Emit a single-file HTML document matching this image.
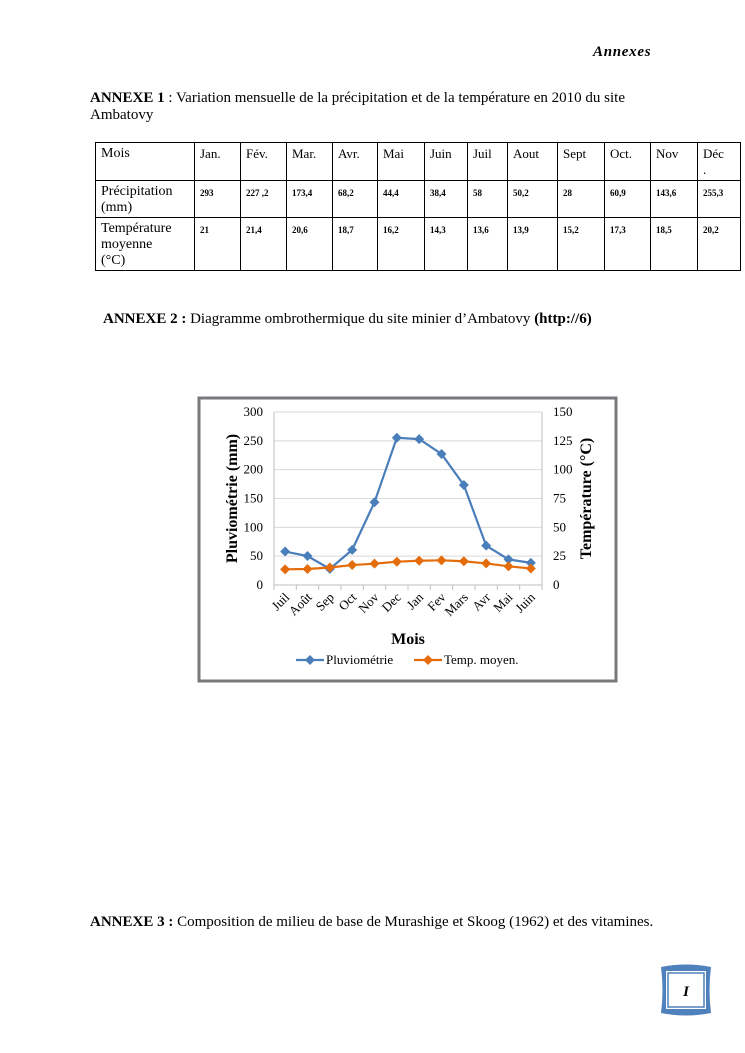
<!DOCTYPE html>
<html><head><meta charset="utf-8"><style>
body{margin:0;background:#fff;font-family:"Liberation Serif",serif;color:#000}
#page{position:relative;width:745px;height:1053px;overflow:hidden}
.t{position:absolute;white-space:nowrap;font-size:15px}
table{position:absolute;left:95px;top:142px;border-collapse:collapse;table-layout:fixed;width:645px}
td{border:1px solid #000;vertical-align:top;padding:3px 4px 0 5px;font-size:14px;line-height:16px;overflow:hidden}
td.v{font-size:9px;font-weight:bold;padding-top:6px;line-height:12px}
</style></head><body><div id="page">
<div class="t" style="left:593px;top:44px;font-style:italic;font-weight:bold;font-size:15px;letter-spacing:0.7px">Annexes</div>
<div class="t" style="left:90px;top:90px;line-height:17px"><b>ANNEXE 1</b> : Variation mensuelle de la précipitation et de la température en 2010 du site<br>Ambatovy</div>
<table>
<colgroup><col style="width:99px"><col style="width:46px"><col style="width:46px"><col style="width:46px"><col style="width:45px"><col style="width:47px"><col style="width:43px"><col style="width:40px"><col style="width:50px"><col style="width:47px"><col style="width:46px"><col style="width:47px"><col style="width:43px"></colgroup>
<tr style="height:38px"><td>Mois</td><td style="font-size:13px">Jan.</td><td style="font-size:13px">Fév.</td><td style="font-size:13px">Mar.</td><td style="font-size:13px">Avr.</td><td style="font-size:13px">Mai</td><td style="font-size:13px">Juin</td><td style="font-size:13px">Juil</td><td style="font-size:13px">Aout</td><td style="font-size:13px">Sept</td><td style="font-size:13px">Oct.</td><td style="font-size:13px">Nov</td><td style="font-size:13px">Déc<br>.</td></tr>
<tr style="height:37px"><td>Précipitation<br>(mm)</td><td class="v">293</td><td class="v">227 ,2</td><td class="v">173,4</td><td class="v">68,2</td><td class="v">44,4</td><td class="v">38,4</td><td class="v">58</td><td class="v">50,2</td><td class="v">28</td><td class="v">60,9</td><td class="v">143,6</td><td class="v">255,3</td></tr>
<tr style="height:53px"><td>Température<br>moyenne<br>(°C)</td><td class="v">21</td><td class="v">21,4</td><td class="v">20,6</td><td class="v">18,7</td><td class="v">16,2</td><td class="v">14,3</td><td class="v">13,6</td><td class="v">13,9</td><td class="v">15,2</td><td class="v">17,3</td><td class="v">18,5</td><td class="v">20,2</td></tr>
</table>
<div class="t" style="left:103px;top:311px"><b>ANNEXE 2 :</b> Diagramme ombrothermique du site minier d’Ambatovy <b>(http://6)</b></div>
<svg id="chart" style="position:absolute;left:0;top:0" width="745" height="1053"></svg>
<div class="t" style="left:90px;top:914px"><b>ANNEXE 3 :</b> Composition de milieu de base de Murashige et Skoog (1962) et des vitamines.</div>
<svg style="position:absolute;left:658px;top:962px" width="56" height="56">
<path d="M3,5 Q28,0 53,5 Q50,28 53,51 Q28,56 3,51 Q6,28 3,5Z" fill="#4f81bd"/>
<rect x="8" y="9" width="40" height="38" fill="#fff"/><rect x="10" y="11" width="36" height="34" fill="none" stroke="#4f81bd" stroke-width="1.5"/>
<text x="28" y="34" text-anchor="middle" font-family="Liberation Serif" font-style="italic" font-weight="bold" font-size="15">I</text></svg>
</div>
<script>
const months=["Juil","Août","Sep","Oct","Nov","Dec","Jan","Fev","Mars","Avr","Mai","Juin"];
const pluvio=[58,50.2,28,60.9,143.6,255.3,253,227.2,173.4,68.2,44.4,38.4];
const temp=[13.6,13.9,15.2,17.3,18.5,20.2,21,21.4,20.6,18.7,16.2,14.3];
const leftTicks=[0,50,100,150,200,250,300];
const rightTicks=[0,25,50,75,100,125,150];
const svg=document.getElementById('chart');const NS="http://www.w3.org/2000/svg";
const X0=274,X1=542,Y0=585,Y1=412;
const cw=(X1-X0)/months.length;
const x=i=>X0+cw*(i+0.5);
const yL=v=>Y0-(v/300)*(Y0-Y1);
const yR=v=>Y0-(v/150)*(Y0-Y1);
function el(t,a,txt){const e=document.createElementNS(NS,t);for(const k in a)e.setAttribute(k,a[k]);if(txt!=null)e.textContent=txt;svg.appendChild(e);return e;}
let f=el('rect',{x:199,y:398,width:417,height:283,fill:'#fff',stroke:'#77787b','stroke-width':3});

leftTicks.forEach(v=>{
 if(v>0){let g=el('line',{x1:X0,x2:X1,y1:yL(v),y2:yL(v),stroke:'#d9d9d9','stroke-width':1});}
 let t=el('text',{x:X0-11,y:yL(v)+4,'text-anchor':'end','font-size':13,'font-family':'Liberation Serif'},v);
 
});
rightTicks.forEach(v=>{
 let t=el('text',{x:X1+11,y:yR(v)+4,'font-size':13,'font-family':'Liberation Serif'},v);
 
});
let ax=el('path',{d:`M${X0},${Y1}V${Y0}H${X1}V${Y1}`,fill:'none',stroke:'#bfbfbf','stroke-width':1});

for(let i=0;i<=months.length;i++){let t=el('line',{x1:X0+cw*i,x2:X0+cw*i,y1:Y0,y2:Y0+5,stroke:'#bfbfbf'});}
months.forEach((m,i)=>{
 let t=el('text',{x:x(i)+5,y:Y0+13,'text-anchor':'end','font-size':13,'font-family':'Liberation Serif',transform:`rotate(-45 ${x(i)+5} ${Y0+13})`},m);
 
});
function series(vals,yf,color,name){
 let p=el('polyline',{points:vals.map((v,i)=>x(i)+','+yf(v)).join(' '),fill:'none',stroke:color,'stroke-width':2.2});
 
 vals.forEach((v,i)=>{let d=el('path',{d:`M${x(i)},${yf(v)-5}l5,5l-5,5l-5,-5z`,fill:color});
  });
}
series(pluvio,yL,'#4a7ebb','pluviometrie');
series(temp,yR,'#e46c0a','temperature');
let t1=el('text',{x:0,y:0,'font-size':16,'font-weight':'bold','font-family':'Liberation Serif','text-anchor':'middle',transform:`translate(237,${(Y0+Y1)/2}) rotate(-90)`},'Pluviométrie (mm)');

let t2=el('text',{x:0,y:0,'font-size':16,'font-weight':'bold','font-family':'Liberation Serif','text-anchor':'middle',transform:`translate(591,${(Y0+Y1)/2}) rotate(-90)`},'Température (°C)');

let t3=el('text',{x:408,y:644,'font-size':16,'font-weight':'bold','font-family':'Liberation Serif','text-anchor':'middle'},'Mois');

[[296,'#4a7ebb','Pluviométrie'],[414,'#e46c0a','Temp. moyen.']].forEach(([lx,c,n])=>{
 let l=el('line',{x1:lx,x2:lx+28,y1:660,y2:660,stroke:c,'stroke-width':2.2});
 let d=el('path',{d:`M${lx+14},655l5,5l-5,5l-5,-5z`,fill:c});
 let t=el('text',{x:lx+30,y:664,'font-size':13,'font-family':'Liberation Serif'},n);
});
</script></body></html>
